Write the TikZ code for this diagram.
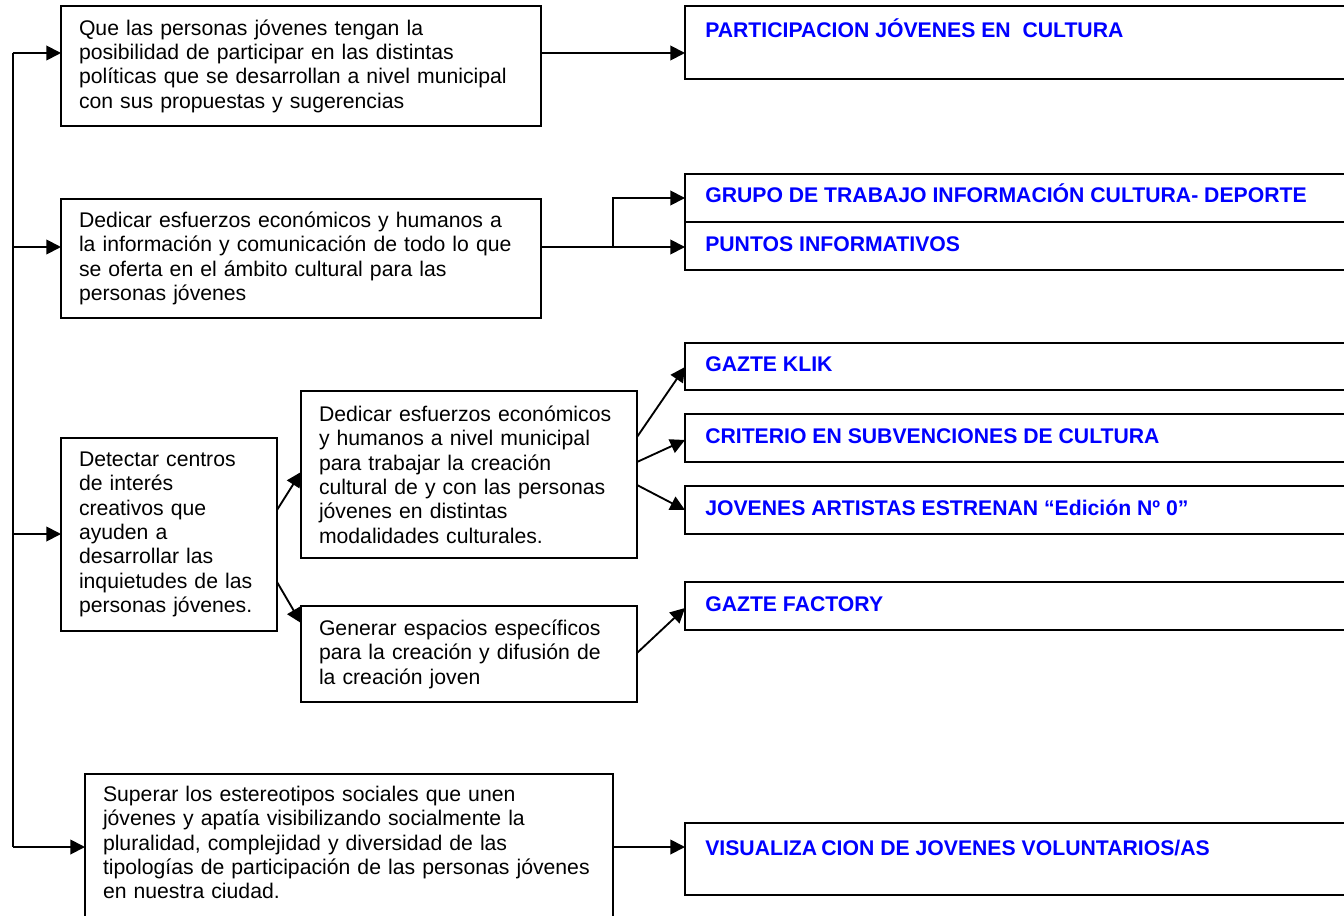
\documentclass[tikz,border=0pt]{standalone}
\usepackage{fontspec}
\setmainfont{Liberation Sans}
\usetikzlibrary{arrows.meta,calc}
\newlength\pxu
\setlength\pxu{0.75pt}
\definecolor{tblue}{RGB}{0,0,255}
\tikzset{
  lbox/.style={draw, line width=1.4pt, anchor=north west, outer sep=0pt,
    inner xsep=18\pxu, inner ysep=0pt, align=left,
    font=\fontsize{15.9}{18.3}\selectfont},
  rbox/.style={draw, line width=1.4pt, anchor=north west, outer sep=0pt,
    minimum width=720\pxu, inner sep=0pt},
  rlab/.style={anchor=base west, inner sep=0pt, text=tblue,
    font=\bfseries\fontsize{15.9}{18.3}\selectfont},
  conn/.style={line width=1.4pt},
  arr/.style={line width=1.4pt, -{Triangle[length=11pt,width=11pt]}}
}
\begin{document}
\begin{tikzpicture}[x=\pxu, y=-\pxu]
\useasboundingbox (0,0) rectangle (1344,916);
\clip (0,0) rectangle (1344,916);

% left boxes
\node[lbox, text width=444\pxu, minimum height=120\pxu] (b1) at (61,6)
 {Que las personas jóvenes tengan la\\posibilidad de participar en las distintas\\políticas que se desarrollan a nivel municipal\\con sus propuestas y sugerencias};
\node[lbox, text width=444\pxu, minimum height=119\pxu] (b2) at (61,199)
 {Dedicar esfuerzos económicos y humanos a\\la información y comunicación de todo lo que\\se oferta en el ámbito cultural para las\\personas jóvenes};
\node[lbox, text width=180\pxu, minimum height=193\pxu] (b3) at (61,438)
 {Detectar centros\\de interés\\creativos que\\ayuden a\\desarrollar las\\inquietudes de las\\personas jóvenes.};
\node[lbox, text width=300\pxu, minimum height=167\pxu] (b4) at (301,391)
 {Dedicar esfuerzos económicos\\y humanos a nivel municipal\\para trabajar la creación\\cultural de y con las personas\\jóvenes en distintas\\modalidades culturales.};
\node[lbox, text width=300\pxu, minimum height=96\pxu] (b5) at (301,606)
 {Generar espacios específicos\\para la creación y difusión de\\la creación joven};
\node[lbox, draw=none, text width=492\pxu, minimum height=137\pxu] (b6) at (85,774)
 {Superar los estereotipos sociales que unen\\jóvenes y apatía visibilizando socialmente la\\pluralidad, complejidad y diversidad de las\\tipologías de participación de las personas jóvenes\\en nuestra ciudad.};
\draw[conn] ([shift={(0,12)}]b6.south west) |- (b6.north east) -- ([shift={(0,12)}]b6.south east);

% right boxes
\node[rbox, minimum height=73\pxu] (p1) at (685,6) {};
\node[rbox, minimum height=48\pxu] (g1) at (685,174) {};
\node[rbox, minimum height=48\pxu] (g2) at (685,222) {};
\node[rbox, minimum height=47\pxu] (k1) at (685,343) {};
\node[rbox, minimum height=48\pxu] (k2) at (685,414) {};
\node[rbox, minimum height=48\pxu] (k3) at (685,486) {};
\node[rbox, minimum height=48\pxu] (f1) at (685,582) {};
\node[rbox, minimum height=72\pxu] (v1) at (685,823) {};

\node[rlab] (tp1) at ([shift={(20,32)}]p1.north west) {PARTICIPACION JÓVENES EN\ \ CULTURA};
\node[rlab] (tg1) at ([shift={(20,29)}]g1.north west) {GRUPO DE TRABAJO INFORMACIÓN CULTURA- DEPORTE};
\node[rlab] (tg2) at ([shift={(20,30)}]g2.north west) {PUNTOS INFORMATIVOS};
\node[rlab] (tk1) at ([shift={(20,28)}]k1.north west) {GAZTE KLIK};
\node[rlab] (tk2) at ([shift={(20,29)}]k2.north west) {CRITERIO EN SUBVENCIONES DE CULTURA};
\node[rlab] (tk3) at ([shift={(20,29)}]k3.north west) {JOVENES ARTISTAS ESTRENAN “Edición Nº 0”};
\node[rlab] (tf1) at ([shift={(20,29)}]f1.north west) {GAZTE FACTORY};
\node[rlab] (tv1) at ([shift={(20,32)}]v1.north west) {VISUALIZA\hspace{0.2em}CION DE JOVENES VOLUNTARIOS/AS};

% left trunk
\coordinate (L1) at (12.7,53);
\coordinate (L2) at (12.7,247);
\coordinate (L3) at (12.7,534);
\coordinate (L4) at (12.7,847);
\coordinate (br) at (613,247);
\draw[conn] (L1) -- (L4);
\draw[arr] (L1) -- (L1 -| b1.west);
\draw[arr] (L2) -- (L2 -| b2.west);
\draw[arr] (L3) -- (L3 -| b3.west);
\draw[arr] (L4) -- (L4 -| b6.west);

% to the right
\draw[arr] (L1 -| b1.east) -- (L1 -| p1.west);
\draw[conn] (L2 -| b2.east) -- (br);
\draw[arr] (br) |- (g1.west);
\draw[arr] (br) -- (br -| g2.west);
\draw[arr] ([shift={(0,72)}]b3.north east) -- ([shift={(0,81)}]b4.north west);
\draw[arr] ([shift={(0,144)}]b3.north east) -- ([shift={(0,17)}]b5.north west);
\draw[arr] ([shift={(0,46)}]b4.north east) -- ([shift={(0,24)}]k1.north west);
\draw[arr] ([shift={(0,71)}]b4.north east) -- ([shift={(0,26)}]k2.north west);
\draw[arr] ([shift={(0,94)}]b4.north east) -- ([shift={(0,24)}]k3.north west);
\draw[arr] ([shift={(0,47)}]b5.north east) -- ([shift={(0,26)}]f1.north west);
\draw[arr] (L4 -| b6.east) -- (L4 -| v1.west);
\end{tikzpicture}
\end{document}
